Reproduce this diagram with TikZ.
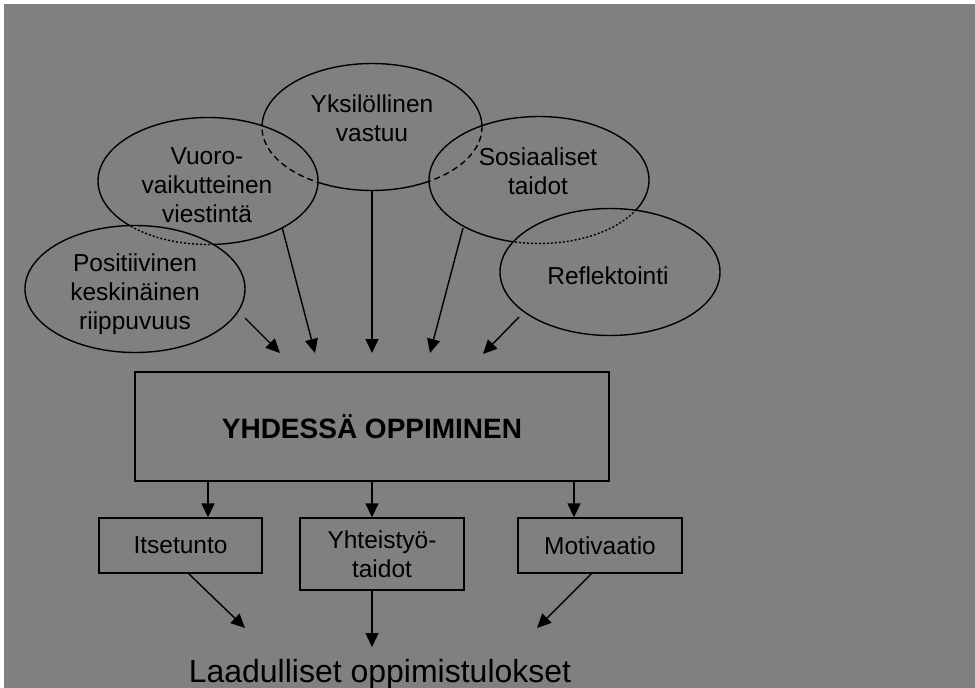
\documentclass[tikz,border=0pt]{standalone}
\usepackage{fontspec}
\setmainfont{Liberation Sans}
\usetikzlibrary{arrows.meta,shapes.geometric,calc}
\definecolor{bg}{HTML}{808080}
\begin{document}
\begin{tikzpicture}[x=1pt,y=-1pt,
  line width=1.4pt,
  arr/.style={-{Triangle[length=14pt,width=13pt]}},
  ell/.style={ellipse, draw, fill=bg, inner sep=0pt, outer sep=0pt, minimum width=220pt, minimum height=127pt},
  hid/.style={dash pattern=on 6pt off 4pt},
  hidlow/.style={dash pattern=on 2pt off 2pt},
  etext/.style={align=center, font=\fontsize{24.5}{29}\selectfont, text=black},
  bx/.style={draw, inner sep=0pt, align=center, font=\fontsize{24.5}{29}\selectfont, text=black}]
\path[use as bounding box] (0,0) rectangle (975,688);
\fill[white] (0,0) rectangle (975,688);
\fill[bg] (4,4) rectangle (975,688);

% back ellipse
\node[ell] (eY) at (372,127) {};
% Vuoro over Yks
\node[ell] (eV) at (208,181) {};
\begin{scope}
  \clip (eV.center) ellipse [x radius=110pt, y radius=63.5pt];
  \draw[hid] (eY.center) ellipse [x radius=110pt, y radius=63.5pt];
\end{scope}
% Sosiaaliset over Yks
\node[ell] (eS) at (539,180) {};
\begin{scope}
  \clip (eS.center) ellipse [x radius=110pt, y radius=63.5pt];
  \draw[hid] (eY.center) ellipse [x radius=110pt, y radius=63.5pt];
\end{scope}
% Positiivinen over Vuoro
\node[ell] (eP) at (135,289) {};
\begin{scope}
  \clip (eP.center) ellipse [x radius=110pt, y radius=63.5pt];
  \draw[hidlow] (eV.center) ellipse [x radius=110pt, y radius=63.5pt];
\end{scope}
% Reflektointi over Sosiaaliset
\node[ell] (eR) at (610,272) {};
\begin{scope}
  \clip (eR.center) ellipse [x radius=110pt, y radius=63.5pt];
  \draw[hidlow] (eS.center) ellipse [x radius=110pt, y radius=63.5pt];
\end{scope}

% texts
\node[etext] (tY) at (372,118) {Yksilöllinen\\vastuu};
\node[etext] (tV) at (207,185) {Vuoro-\\vaikutteinen\\viestintä};
\node[etext] (tS) at (538,171) {Sosiaaliset\\taidot};
\node[etext] (tP) at (135,294) {Positiivinen\\keskinäinen\\riippuvuus};
\node[etext] (tR) at (608,276) {Reflektointi};

% main box
\node[bx, minimum width=474pt, minimum height=109pt, font=\fontsize{28}{32}\selectfont\bfseries] (main) at (372,426.5) {YHDESSÄ OPPIMINEN};

% outcome boxes
\node[bx, minimum width=163pt, minimum height=55pt] (it) at (180.5,545.5) {Itsetunto};
\node[bx, minimum width=164pt, minimum height=72pt] (yh) at (382,554) {Yhteistyö-\\taidot};
\node[bx, minimum width=164pt, minimum height=55pt] (mo) at (600,545.5) {Motivaatio};

% final text
\node[anchor=base, font=\fontsize{32}{36}\selectfont, text=black] (out) at (380,682) {Laadulliset oppimistulokset};

% arrow end points
\coordinate (sP) at (245,318);
\coordinate (sV) at (282,227);
\coordinate (sR) at (519,317);
\coordinate (sS) at (463,228);
\coordinate (tpP) at (280,353);
\coordinate (tpV) at (315,353);
\coordinate (tpY) at (372,353);
\coordinate (tpS) at (430,353);
\coordinate (tpR) at (483,354);

\draw[arr] (sP) -- (tpP);
\draw[arr] (sV) -- (tpV);
\draw[arr] (eY.south) -- (tpY);
\draw[arr] (sS) -- (tpS);
\draw[arr] (sR) -- (tpR);

% main to outcomes
\coordinate (m1) at (208,481);
\coordinate (m2) at (372,481);
\coordinate (m3) at (574,481);
\draw[arr] (m1) -- (m1 |- it.north);
\draw[arr] (m2) -- (m2 |- yh.north);
\draw[arr] (m3) -- (m3 |- mo.north);

% outcomes to final
\coordinate (o1) at (188,573);
\coordinate (o2) at (372,590);
\coordinate (o3) at (592,573);
\coordinate (f1) at (245,628);
\coordinate (f2) at (372,647);
\coordinate (f3) at (537,628);
\draw[arr] (o1) -- (f1);
\draw[arr] (o2) -- (f2);
\draw[arr] (o3) -- (f3);
\end{tikzpicture}
\end{document}
